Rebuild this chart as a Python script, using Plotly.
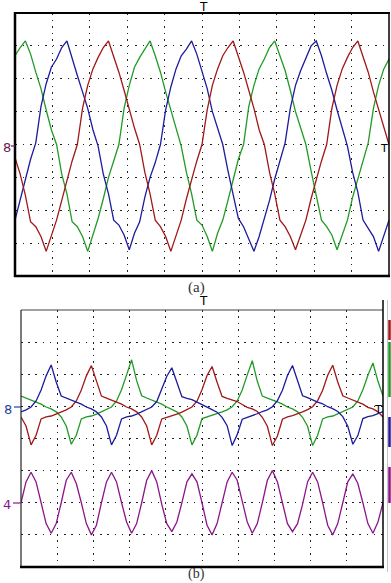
import plotly.graph_objects as go

# electrical angle samples (deg); one screen division = 108 deg (5 ms/div at 60 Hz)
theta = [0, 15, 30, 45, 60, 75, 90, 105, 120, 135, 150, 165, 180, 195, 210, 225, 240, 255,
         270, 285, 300, 315, 330, 345, 360, 375, 390, 405, 420, 435, 450, 465, 480, 495,
         510, 525, 540, 555, 570, 585, 600, 615, 630, 645, 660, 675, 690, 705, 720, 735,
         750, 765, 780, 795, 810, 825, 840, 855, 870, 885, 900, 915, 930, 945, 960, 975,
         990, 1005, 1020, 1035, 1050, 1065, 1080]

# ---- panel (a): three phase voltages (divisions) ----
a_blue = [-2.3, -1.7, -1.1, -0.45, 0.05, 1.15, 1.85, 2.35, 2.6, 2.95, 3.15, 2.6, 2.1, 1.6,
          1.1, 0.45, -0.05, -0.9, -1.5, -2.3, -2.45, -2.75, -3.2, -2.7, -2.35, -1.6, -1.0,
          -0.55, 0.0, 1.05, 1.75, 2.3, 2.7, 2.9, 3.15, 2.75, 2.2, 1.7, 1.0, 0.5, 0.0, -0.8,
          -1.55, -2.25, -2.5, -2.85, -3.25, -2.8, -2.25, -1.7, -1.05, -0.5, 0.05, 1.1, 1.8,
          2.25, 2.65, 3.0, 3.15, 2.7, 2.15, 1.65, 1.05, 0.5, -0.05, -0.85, -1.45, -2.3,
          -2.55, -2.8, -3.25, -2.75, -2.3]
a_green = [2.7, 2.95, 3.15, 2.75, 2.2, 1.7, 1.05, 0.45, 0.0, -0.9, -1.5, -2.35, -2.5, -2.8,
           -3.25, -2.75, -2.25, -1.65, -1.0, -0.5, 0.0, 1.1, 1.8, 2.35, 2.65, 2.9, 3.15, 2.7,
           2.2, 1.6, 1.05, 0.5, -0.05, -0.85, -1.5, -2.3, -2.45, -2.8, -3.25, -2.7, -2.3,
           -1.7, -1.05, -0.45, 0.0, 1.15, 1.8, 2.3, 2.6, 2.95, 3.15, 2.7, 2.25, 1.65, 1.0,
           0.5, 0.0, -0.8, -1.5, -2.3, -2.5, -2.75, -3.2, -2.75, -2.3, -1.6, -1.05, -0.5,
           0.05, 1.1, 1.8, 2.3, 2.6]
a_red = [-0.4, -0.9, -1.55, -2.35, -2.5, -2.8, -3.25, -2.75, -2.3, -1.7, -1.1, -0.5, 0.0,
         1.1, 1.8, 2.3, 2.65, 2.95, 3.15, 2.7, 2.2, 1.65, 1.05, 0.5, 0.0, -0.85, -1.5, -2.3,
         -2.5, -2.8, -3.25, -2.75, -2.3, -1.65, -1.05, -0.5, 0.0, 1.05, 1.8, 2.3, 2.7, 2.95,
         3.15, 2.7, 2.2, 1.65, 1.1, 0.45, 0.0, -0.85, -1.5, -2.3, -2.5, -2.8, -3.2, -2.75,
         -2.3, -1.65, -1.05, -0.5, 0.0, 1.1, 1.8, 2.3, 2.65, 2.95, 3.15, 2.7, 2.2, 1.6,
         1.05, 0.5, 0.0]

# ---- panel (b): phase voltages (offset +1 div) and neutral voltage (offset -2 div) ----
b_blue = [0.83, 0.89, 0.98, 1.17, 1.51, 1.95, 2.29, 1.76, 1.32, 1.26, 1.20, 1.14, 1.07, 0.98,
          0.92, 0.83, 0.67, 0.39, -0.2, 0.1, 0.61, 0.67, 0.70, 0.76, 0.83, 0.90, 0.98, 1.15,
          1.52, 1.94, 2.2, 1.74, 1.30, 1.25, 1.21, 1.13, 1.06, 0.97, 0.9, 0.82, 0.66, 0.4,
          -0.22, 0.12, 0.6, 0.66, 0.71, 0.77, 0.84, 0.89, 0.99, 1.18, 1.5, 1.96, 2.27, 1.77,
          1.33, 1.27, 1.19, 1.13, 1.08, 0.99, 0.93, 0.84, 0.68, 0.38, -0.18, 0.09, 0.62,
          0.68, 0.71, 0.77, 0.84]
b_red = [0.67, 0.39, -0.2, 0.1, 0.61, 0.67, 0.70, 0.76, 0.83, 0.89, 0.98, 1.17, 1.51, 1.95,
         2.27, 1.76, 1.32, 1.26, 1.20, 1.14, 1.07, 0.98, 0.92, 0.83, 0.67, 0.39, -0.2, 0.1,
         0.61, 0.66, 0.70, 0.76, 0.82, 0.89, 0.98, 1.16, 1.52, 1.96, 2.24, 1.75, 1.31,
         1.25, 1.20, 1.15, 1.06, 0.97, 0.92, 0.84, 0.66, 0.38, -0.22, 0.08, 0.6, 0.67, 0.71,
         0.76, 0.83, 0.9, 0.99, 1.18, 1.5, 1.97, 2.28, 1.76, 1.33, 1.26, 1.19, 1.14, 1.07,
         0.97, 0.92, 0.83, 0.67]
b_green = [1.32, 1.26, 1.20, 1.14, 1.07, 0.98, 0.92, 0.83, 0.67, 0.39, -0.18, 0.1, 0.61, 0.67,
           0.70, 0.76, 0.83, 0.89, 0.98, 1.17, 1.52, 1.98, 2.45, 1.8, 1.33, 1.26, 1.20, 1.13,
           1.07, 0.98, 0.91, 0.83, 0.67, 0.39, -0.2, 0.1, 0.62, 0.67, 0.71, 0.76, 0.83, 0.89,
           0.99, 1.17, 1.51, 1.98, 2.42, 1.78, 1.32, 1.26, 1.21, 1.14, 1.07, 0.98, 0.92,
           0.83, 0.66, 0.38, -0.22, 0.1, 0.61, 0.67, 0.70, 0.77, 0.83, 0.89, 0.98, 1.17,
           1.52, 1.97, 2.35, 1.78, 1.32]
b_purple = [-2.0, -1.35, -1.05, -1.35, -2.0, -2.65, -2.95, -2.65, -2.0, -1.3, -1.05, -1.4,
            -2.0, -2.65, -3.0, -2.7, -2.0, -1.35, -1.05, -1.35, -2.0, -2.6, -2.95, -2.65,
            -2.0, -1.3, -1.0, -1.35, -2.05, -2.65, -2.9, -2.6, -2.0, -1.35, -1.1, -1.35,
            -2.0, -2.7, -3.0, -2.65, -2.0, -1.35, -1.05, -1.3, -1.95, -2.6, -2.95, -2.65,
            -2.0, -1.3, -1.0, -1.35, -2.0, -2.65, -2.9, -2.65, -2.05, -1.35, -1.05, -1.35,
            -2.0, -2.7, -3.0, -2.65, -2.0, -1.35, -1.1, -1.4, -2.0, -2.65, -2.95, -2.6, -2.0]

BLUE = "#1c1c9c"
RED = "#a01818"
GREEN = "#229a26"
PURPLE = "#8b168b"

W, H = 391, 583


def px(x):
    return x / W


def py(y):
    return 1 - y / H


fig = go.Figure()
for vals, col in [(a_green, GREEN), (a_blue, BLUE), (a_red, RED)]:
    fig.add_trace(go.Scatter(x=theta, y=vals, mode="lines", line=dict(color=col, width=1.3),
                             xaxis="x", yaxis="y", showlegend=False, hoverinfo="skip"))
for vals, col in [(b_green, GREEN), (b_red, RED), (b_blue, BLUE), (b_purple, PURPLE)]:
    fig.add_trace(go.Scatter(x=theta, y=vals, mode="lines", line=dict(color=col, width=1.3),
                             xaxis="x2", yaxis="y2", showlegend=False, hoverinfo="skip"))

common = dict(showticklabels=False, ticks="", zeroline=False, showline=False, showgrid=True,
              gridcolor="#222", gridwidth=1.3, fixedrange=True)
fig.update_layout(
    width=W, height=H, margin=dict(l=0, r=0, t=0, b=0),
    paper_bgcolor="white", plot_bgcolor="white",
    xaxis=dict(domain=[px(15), px(389)], range=[0, 1080], tick0=0, dtick=108,
               griddash="1.5px,5.1px", anchor="y", **common),
    yaxis=dict(domain=[py(276), py(13)], range=[-4, 4], tick0=0, dtick=1,
               griddash="1.5px,6px", anchor="x", **common),
    xaxis2=dict(domain=[px(21), px(383)], range=[0, 1080], tick0=0, dtick=108,
                griddash="1.5px,4.9px", anchor="y2", **common),
    yaxis2=dict(domain=[py(567), py(310)], range=[-4, 4], tick0=0, dtick=1,
                griddash="1.5px,5.7px", anchor="x2", **common),
)


def seg(x0, y0, x1, y1, color="black", width=2):
    fig.add_shape(type="line", xref="paper", yref="paper", x0=px(x0), y0=py(y0),
                  x1=px(x1), y1=py(y1), line=dict(color=color, width=width))


# panel (a) frame
seg(14, 13, 390, 13, width=2.2)
seg(15, 12, 15, 277, width=2.5)
seg(14, 276, 390, 276, width=2.5)
seg(389, 12, 389, 277, width=1.5)
# panel (b) frame
seg(21, 310, 383, 310, color="#444", width=1.2)
seg(21, 310, 21, 567, color="#222", width=1.2)
seg(20, 567, 384, 567, width=2.5)
seg(383, 300, 383, 568, width=1.5)
# channel scale indicators on right of (b)
seg(387.5, 300, 387.5, 572, color="#c4c4c4", width=1)
seg(389.5, 320, 389.5, 340, color=RED, width=2.5)
seg(389.5, 342, 389.5, 397, color=GREEN, width=2.5)
seg(389.5, 417, 389.5, 447, color=BLUE, width=2.5)
seg(389.5, 467, 389.5, 503, color=PURPLE, width=2.5)
# ground marker dashes
seg(11, 146, 15, 146, color="#6a2050", width=1.2)
seg(14, 407, 21, 407, color="#2a3f9a", width=1.2)
seg(13, 503, 21, 503, color=PURPLE, width=1.2)


def txt(x, y, s, size=13, color="black", family="DejaVu Sans"):
    fig.add_annotation(x=px(x), y=py(y), xref="paper", yref="paper", text=s, showarrow=False,
                       font=dict(size=size, color=color, family=family),
                       xanchor="center", yanchor="middle")


txt(203, 7, "T", size=12)
txt(203, 301, "T", size=12)
txt(384, 148, "T", size=11)
txt(378, 409, "T", size=11)
txt(7, 147, "8", size=13, color="#6a2050")
txt(8, 409, "8", size=13, color="#2a3f9a")
txt(7, 504, "4", size=13, color=PURPLE)
txt(196, 287, "(a)", size=15, color="#333", family="Liberation Serif")
txt(196, 574, "(b)", size=14, color="#333", family="Liberation Serif")

fig.write_html("out.html")
